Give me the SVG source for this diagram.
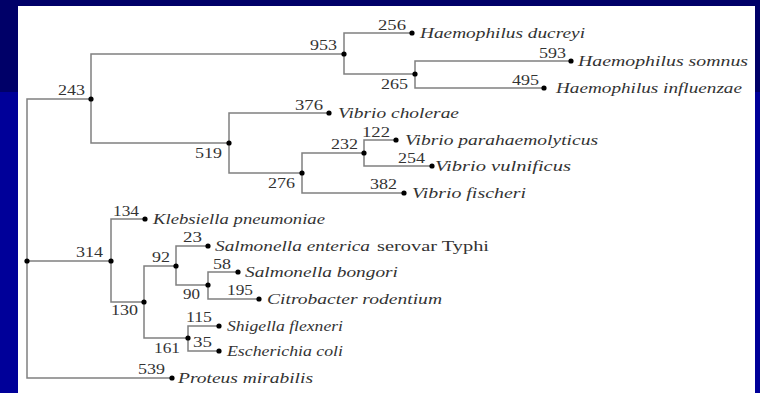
<svg xmlns="http://www.w3.org/2000/svg" width="760" height="393" viewBox="0 0 760 393">
<style>
.ln{fill:none;stroke:#808080;stroke-width:1.5}
.d{fill:#000}
.n{font-family:"Liberation Serif",serif;font-size:14px;fill:#333;text-anchor:end}
.s{font-family:"Liberation Serif",serif;font-size:14px;font-style:italic;fill:#333}
.r{font-family:"Liberation Serif",serif;font-size:14px;fill:#333}
</style>
<rect x="0" y="0" width="760" height="393" fill="#000099"/>
<rect x="0" y="0" width="760" height="92" fill="#000068"/>
<rect x="18" y="6" width="737" height="387" fill="#ffffff"/>
<g id="connectors" class="ln">
<path d="M91,99H27V378H172M27,261H111"/>
<path d="M344,54H91V143H229"/>
<path d="M412,33H344V74H415"/>
<path d="M571,61H415V88H544"/>
<path d="M329,113H229V173H302"/>
<path d="M364,153H302V193H404"/>
<path d="M396,140H364V166H432"/>
<path d="M145,219H111V302H144"/>
<path d="M176,266H144V338H188"/>
<path d="M208,246H176V285H208"/>
<path d="M238,272H208V299H259"/>
<path d="M219,326H188V351H219"/>
</g>
<g id="root"><circle class="d" cx="27" cy="261" r="2.6"/></g>
<g id="n243"><circle class="d" cx="91" cy="99" r="2.6"/><text class="n" x="85" y="95" textLength="27" lengthAdjust="spacingAndGlyphs">243</text></g>
<g id="n953"><circle class="d" cx="344" cy="54" r="2.6"/><text class="n" x="337" y="50" textLength="27" lengthAdjust="spacingAndGlyphs">953</text></g>
<g id="n265"><circle class="d" cx="415" cy="74" r="2.6"/><text class="n" x="408" y="89" textLength="27" lengthAdjust="spacingAndGlyphs">265</text></g>
<g id="n519"><circle class="d" cx="229" cy="143" r="2.6"/><text class="n" x="222" y="158" textLength="27" lengthAdjust="spacingAndGlyphs">519</text></g>
<g id="n276"><circle class="d" cx="302" cy="173" r="2.6"/><text class="n" x="295" y="188" textLength="27" lengthAdjust="spacingAndGlyphs">276</text></g>
<g id="n232"><circle class="d" cx="364" cy="153" r="2.6"/><text class="n" x="358" y="149" textLength="27" lengthAdjust="spacingAndGlyphs">232</text></g>
<g id="n314"><circle class="d" cx="111" cy="261" r="2.6"/><text class="n" x="103" y="257" textLength="27" lengthAdjust="spacingAndGlyphs">314</text></g>
<g id="n130"><circle class="d" cx="144" cy="302" r="2.6"/><text class="n" x="138" y="315" textLength="27" lengthAdjust="spacingAndGlyphs">130</text></g>
<g id="n92"><circle class="d" cx="176" cy="266" r="2.6"/><text class="n" x="170" y="262" textLength="18" lengthAdjust="spacingAndGlyphs">92</text></g>
<g id="n90"><circle class="d" cx="208" cy="285" r="2.6"/><text class="n" x="200" y="299" textLength="17" lengthAdjust="spacingAndGlyphs">90</text></g>
<g id="n161"><circle class="d" cx="188" cy="338" r="2.6"/><text class="n" x="180" y="353" textLength="26" lengthAdjust="spacingAndGlyphs">161</text></g>
<g id="ducreyi"><circle class="d" cx="412" cy="33" r="2.6"/><text class="n" x="406" y="30" textLength="28" lengthAdjust="spacingAndGlyphs">256</text><text class="s" x="420" y="38" textLength="165" lengthAdjust="spacingAndGlyphs">Haemophilus ducreyi</text></g>
<g id="somnus"><circle class="d" cx="571" cy="61" r="2.6"/><text class="n" x="566" y="58" textLength="27" lengthAdjust="spacingAndGlyphs">593</text><text class="s" x="578" y="66" textLength="170" lengthAdjust="spacingAndGlyphs">Haemophilus somnus</text></g>
<g id="influenzae"><circle class="d" cx="544" cy="88" r="2.6"/><text class="n" x="539" y="85" textLength="27" lengthAdjust="spacingAndGlyphs">495</text><text class="s" x="556" y="93" textLength="186" lengthAdjust="spacingAndGlyphs">Haemophilus influenzae</text></g>
<g id="cholerae"><circle class="d" cx="329" cy="113" r="2.6"/><text class="n" x="323" y="110" textLength="28" lengthAdjust="spacingAndGlyphs">376</text><text class="s" x="338" y="118" textLength="121" lengthAdjust="spacingAndGlyphs">Vibrio cholerae</text></g>
<g id="parahaemolyticus"><circle class="d" cx="396" cy="140" r="2.6"/><text class="n" x="390" y="137" textLength="28" lengthAdjust="spacingAndGlyphs">122</text><text class="s" x="405" y="145" textLength="193" lengthAdjust="spacingAndGlyphs">Vibrio parahaemolyticus</text></g>
<g id="vulnificus"><circle class="d" cx="432" cy="166" r="2.6"/><text class="n" x="425" y="163" textLength="27" lengthAdjust="spacingAndGlyphs">254</text><text class="s" x="435" y="171" textLength="136" lengthAdjust="spacingAndGlyphs">Vibrio vulnificus</text></g>
<g id="fischeri"><circle class="d" cx="404" cy="193" r="2.6"/><text class="n" x="397" y="189" textLength="27" lengthAdjust="spacingAndGlyphs">382</text><text class="s" x="412" y="198" textLength="114" lengthAdjust="spacingAndGlyphs">Vibrio fischeri</text></g>
<g id="klebsiella"><circle class="d" cx="145" cy="219" r="2.6"/><text class="n" x="139" y="216" textLength="26" lengthAdjust="spacingAndGlyphs">134</text><text class="s" x="153" y="224" textLength="172" lengthAdjust="spacingAndGlyphs">Klebsiella pneumoniae</text></g>
<g id="enterica"><circle class="d" cx="208" cy="246" r="2.6"/><text class="n" x="202" y="242" textLength="19" lengthAdjust="spacingAndGlyphs">23</text><text class="s" x="215" y="251" textLength="155" lengthAdjust="spacingAndGlyphs">Salmonella enterica</text><text class="r" x="377" y="251" textLength="112" lengthAdjust="spacingAndGlyphs">serovar Typhi</text></g>
<g id="bongori"><circle class="d" cx="238" cy="272" r="2.6"/><text class="n" x="231" y="269" textLength="18" lengthAdjust="spacingAndGlyphs">58</text><text class="s" x="245" y="277" textLength="153" lengthAdjust="spacingAndGlyphs">Salmonella bongori</text></g>
<g id="citrobacter"><circle class="d" cx="259" cy="299" r="2.6"/><text class="n" x="253" y="295" textLength="26" lengthAdjust="spacingAndGlyphs">195</text><text class="s" x="267" y="304" textLength="175" lengthAdjust="spacingAndGlyphs">Citrobacter rodentium</text></g>
<g id="shigella"><circle class="d" cx="219" cy="326" r="2.6"/><text class="n" x="212" y="322" textLength="26" lengthAdjust="spacingAndGlyphs">115</text><text class="s" x="227" y="331" textLength="116" lengthAdjust="spacingAndGlyphs">Shigella flexneri</text></g>
<g id="ecoli"><circle class="d" cx="219" cy="351" r="2.6"/><text class="n" x="212" y="347" textLength="19" lengthAdjust="spacingAndGlyphs">35</text><text class="s" x="227" y="356" textLength="116" lengthAdjust="spacingAndGlyphs">Escherichia coli</text></g>
<g id="proteus"><circle class="d" cx="172" cy="378" r="2.6"/><text class="n" x="165" y="374" textLength="27" lengthAdjust="spacingAndGlyphs">539</text><text class="s" x="178" y="383" textLength="135" lengthAdjust="spacingAndGlyphs">Proteus mirabilis</text></g>
</svg>
